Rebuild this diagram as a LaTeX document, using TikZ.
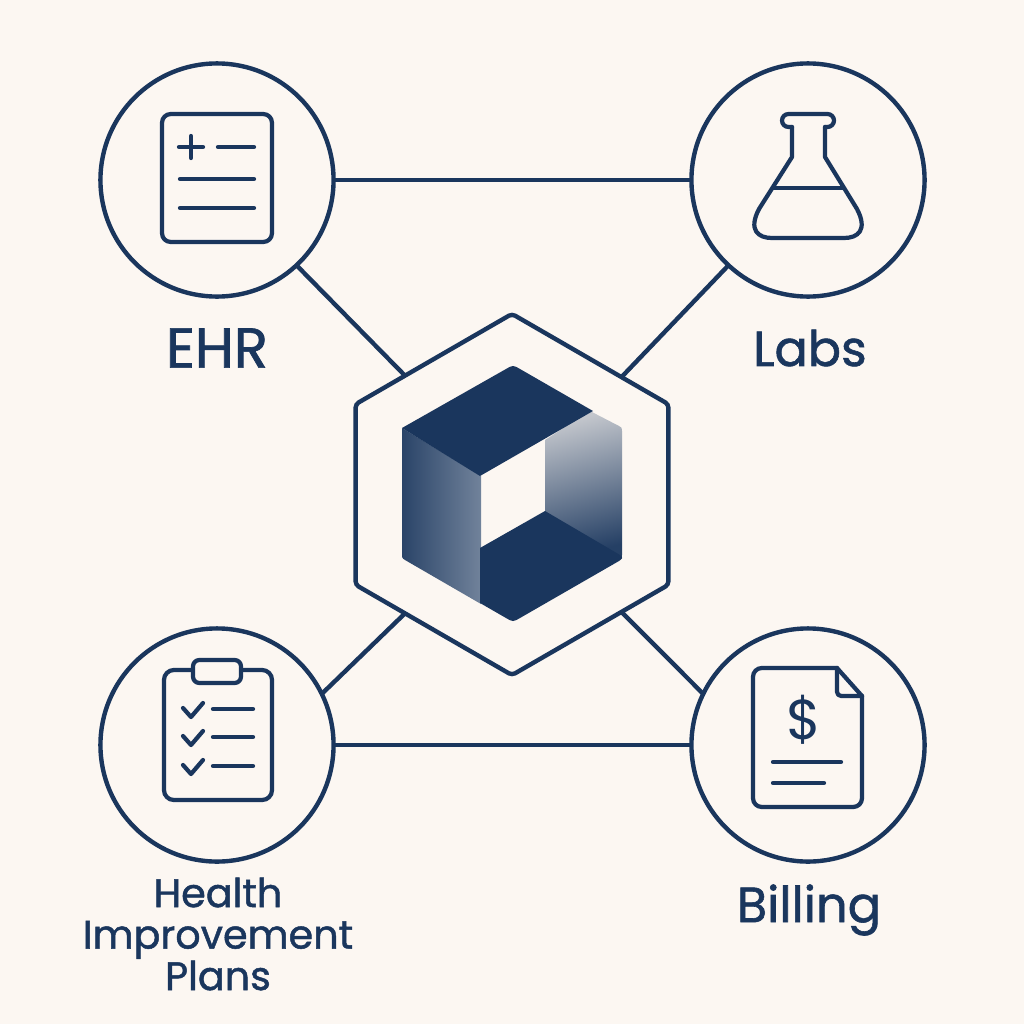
\documentclass[tikz,border=0pt]{standalone}
\usepackage{fontspec}
\setmainfont{Poppins}
\newfontfamily\capfont[FakeBold=1.2]{Poppins}
\usetikzlibrary{shapes.geometric}

\definecolor{navy}{RGB}{26,54,93}
\definecolor{paper}{RGB}{252,247,242}
\setlength{\lineskiplimit}{-20pt}

\tikzset{
    ring/.style={draw=navy, line width=1.25pt, circle, minimum size=2.33cm, inner sep=0pt, outer sep=0pt},
    wire/.style={draw=navy, line width=1.25pt},
    icon/.style={draw=navy, line width=1.2pt, line cap=round, line join=round},
    caption/.style={text=navy, align=center, inner sep=0pt}
}

\begin{document}
\begin{tikzpicture}[x=0.01cm, y=-0.01cm]
    % --- Page ---
    \fill[paper] (0,0) rectangle (1024,1024);
    \useasboundingbox (0,0) rectangle (1024,1024);

    % --- Source circles ---
    \node[ring] (ehr) at (217,180) {};
    \node[ring] (labs) at (808,180) {};
    \node[ring] (plans) at (217,745) {};
    \node[ring] (billing) at (808,745) {};

    % --- Central hexagon ---
    \node[draw=navy, line width=1.25pt, regular polygon, regular polygon sides=6, shape border rotate=30,
        minimum size=3.61cm, inner sep=0pt, outer sep=0pt, rounded corners=1pt] (hub) at (512,494.5) {};

    % --- Connectors ---
    \draw[wire] (ehr) -- (labs);
    \draw[wire] (plans) -- (billing);
    \draw[wire] (ehr.-47.8) -- (hub.132.6);
    \draw[wire] (labs.227.4) -- (hub.47.4);
    \draw[wire] (plans.26) -- (hub.-132.6);
    \draw[wire] (billing.154) -- (hub.-47.4);

    % --- Cube: shaded side faces ---
    \shade[left color=navy!93, middle color=navy!84, right color=navy!62]
        (402,428) -- (481,476) -- (481,604) -- (405,560) .. controls (402,558) .. (402,554) -- cycle;
    \shade[top color=navy!25!paper, bottom color=navy!95, shading angle=15]
        (590,411) -- (619,426) .. controls (622,428) .. (622,431) -- (622,555) .. controls (622,558) .. (620,559) -- (545,513) -- (545,440) -- cycle;

    % --- Cube: dark faces ---
    \fill[navy] (402,428) -- (506,369) .. controls (513,365) .. (520,369) -- (593,411) -- (480,476) -- cycle;
    \fill[navy] (480,548) -- (545,511) -- (620,555) .. controls (623,558) .. (619,561) -- (520,618) .. controls (513,622) .. (506,618) -- (480,603) -- cycle;

    % --- EHR icon ---
    \draw[icon, rounded corners=2.5pt] (162,114) rectangle (272,242);
    \draw[icon] (179,147) -- (203,147) (191,136) -- (191,158);
    \draw[icon] (218,147) -- (254,147);
    \foreach \y in {179,208}
        \draw[icon] (180,\y) -- (254,\y);

    % --- Flask icon ---
    \draw[icon] (792,127) -- (792,157) -- (759,209) .. controls (748,230) and (758,238) .. (772,238) -- (844,238) .. controls (858,238) and (868,230) .. (857,209) -- (825,157) -- (825,127);
    \draw[icon, rounded corners=1.85pt] (792,127) -- (782,127) -- (782,114) -- (834,114) -- (834,127) -- (825,127);
    \draw[icon] (773,188) -- (843,188);

    % --- Clipboard icon ---
    \draw[icon, rounded corners=2.8pt] (164,670) rectangle (272,800);
    \filldraw[icon, fill=paper, rounded corners=1.8pt] (193,660) rectangle (241,683);
    \foreach \y in {0,28,57} {
        \draw[icon] (183,708+\y) -- (191,717+\y) -- (203,703+\y);
        \draw[icon] (213,709+\y) -- (253,709+\y);
    }

    % --- Invoice icon ---
    \draw[icon, rounded corners=2.5pt] (837,668) -- (753,668) -- (753,807) -- (862,807) -- (862,696);
    \draw[icon] (837,668) -- (862,696);
    \draw[icon, rounded corners=1.2pt] (837,668) -- (837,696) -- (862,696);
    \draw[icon] (773,762) -- (841,762);
    \draw[icon] (773,783) -- (824,783);
    \node[text=navy, inner sep=0pt, font=\fontsize{16}{18}\selectfont] (dollar) at (804,720) {\$};

    % --- Captions ---
    \node[caption, font=\capfont\fontsize{16}{18}\selectfont] (ehrtext) at (217,348) {EHR};
    \node[caption, font=\capfont\fontsize{14}{17}\selectfont] (labstext) at (810,348) {Labs};
    \node[caption, font=\capfont\fontsize{11.3}{11.8}\selectfont] (planstext) at (218,934) {Health\\Improvement\\Plans};
    \node[caption, font=\capfont\fontsize{14.1}{17}\selectfont] (billingtext) at (809,910) {Billing};
\end{tikzpicture}
\end{document}
